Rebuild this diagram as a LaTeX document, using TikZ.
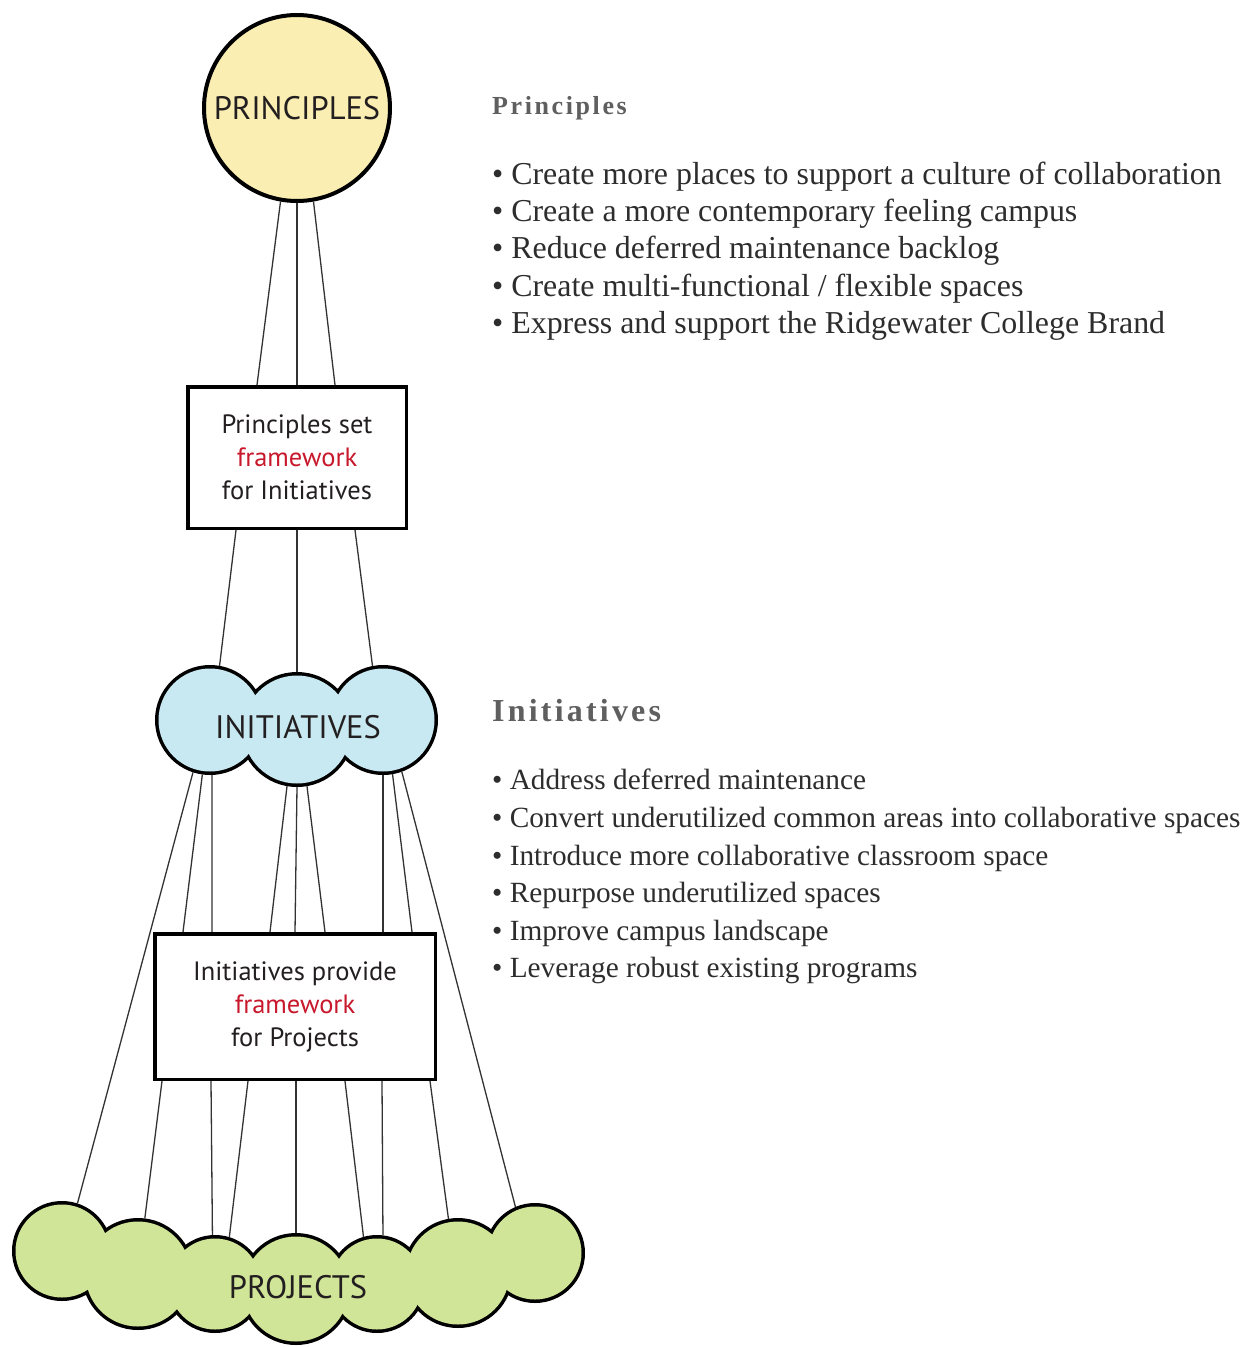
\documentclass[tikz,border=0pt]{standalone}
\usepackage{fontspec}
\setmainfont{Liberation Serif}
\newfontfamily\labelfont{PT Sans}
\newfontfamily\headfont[LetterSpace=10]{Liberation Serif}
\usetikzlibrary{calc}

\definecolor{sunfill}{RGB}{250,238,178}
\definecolor{skyfill}{RGB}{200,233,241}
\definecolor{leaffill}{RGB}{208,229,152}
\definecolor{frameworkred}{RGB}{200,24,44}
\definecolor{inkdark}{RGB}{35,31,32}
\definecolor{headgrey}{RGB}{95,95,95}
\definecolor{listgrey}{RGB}{45,45,45}

\begin{document}
\begin{tikzpicture}[x=1pt,y=-1pt,
  link/.style={draw=black!80, line width=1.3pt},
  frame/.style={rectangle, draw=black, line width=3.5pt, fill=white,
    font=\labelfont\fontsize{26.5}{33}\selectfont, text=inkdark,
    align=center, inner sep=0pt},
  lobe/.style={circle, draw=black, line width=7pt, inner sep=0pt},
  title/.style={font=\labelfont\fontsize{32.5}{32.5}\selectfont, text=inkdark},
  heading/.style={anchor=base west, inner sep=0pt, text=headgrey},
  item/.style={anchor=base west, inner sep=0pt, text=listgrey},
]
\useasboundingbox[fill=white] (0,0) rectangle (1249,1347);

% ---- Principles ----
\node[circle, draw=black, line width=4pt, fill=sunfill, minimum size=186,
      inner sep=0pt, title] (P) at (297,108) {PRINCIPLES};

\node[frame, minimum width=218.5, minimum height=141.5] (B1) at (297,457.5)
  {Principles set\\\textcolor{frameworkred}{framework}\\for Initiatives};

% ---- Initiatives cloud: outlines first, then the fill hides the inner arcs ----
\foreach \n/\x/\y/\r in {i1/210/720/51.5, i2/297/729.5/54, i3/383/720/51.5}
  \node[lobe, minimum size=2*\r] (\n) at (\x,\y) {};
\foreach \x/\y/\r in {210/720/51.5, 297/729.5/54, 383/720/51.5}
  \fill[skyfill] (\x,\y) circle[radius=\r];
\node[title] (I) at (298,727) {INITIATIVES};

\node[frame, minimum width=280.5, minimum height=145.5] (B2) at (295,1006.5)
  {Initiatives provide\\\textcolor{frameworkred}{framework}\\for Projects};

% ---- Projects cloud ----
\foreach \n/\x/\y/\r in {j1/62/1251/46.5, j2/138/1274/52.5, j3/215/1284/45.5,
    j4/296/1289/52.5, j5/377/1284/45.5, j6/458/1273/51.5, j7/535/1253/46.5}
  \node[lobe, minimum size=2*\r] (\n) at (\x,\y) {};
\foreach \x/\y/\r in {62/1251/46.5, 138/1274/52.5, 215/1284/45.5,
    296/1289/52.5, 377/1284/45.5, 458/1273/51.5, 535/1253/46.5}
  \fill[leaffill] (\x,\y) circle[radius=\r];
\node[title] (J) at (298,1287) {PROJECTS};

% ---- connectors ----
\draw[link] (P.-100) -- ([xshift=-40pt]B1.north);
\draw[link] (P.south) -- (B1.north);
\draw[link] (P.-80) -- ([xshift=38pt]B1.north);

\draw[link] ([xshift=-61pt]B1.south) -- (i1.80);
\draw[link] (B1.south) -- (i2.north);
\draw[link] ([xshift=58pt]B1.south) -- (i3.101);

\draw[link] (i1.-98) -- ([xshift=-112pt]B2.north);
\draw[link] (i1.-88) -- ([xshift=-83pt]B2.north);
\draw[link] (i2.-100) -- ([xshift=-25pt]B2.north);
\draw[link] (i2.south) -- (B2.north);
\draw[link] (i2.-80) -- ([xshift=30pt]B2.north);
\draw[link] (i3.-90) -- ([xshift=88pt]B2.north);
\draw[link] (i3.-80) -- ([xshift=117pt]B2.north);
\draw[link] (i1.-108) -- (j1.72);
\draw[link] (i3.-70) -- (j7.113);

\draw[link] ([xshift=-133pt]B2.south) -- (j2.83);
\draw[link] ([xshift=-84pt]B2.south) -- (j3.93);
\draw[link] ([xshift=-47pt]B2.south) -- (j3.73);
\draw[link] ([xshift=1pt]B2.south) -- (j4.north);
\draw[link] ([xshift=50pt]B2.south) -- (j5.106);
\draw[link] ([xshift=87pt]B2.south) -- (j5.83);
\draw[link] ([xshift=135pt]B2.south) -- (j6.100);

% ---- lists ----
\node[heading, font=\headfont\bfseries\fontsize{26}{26}\selectfont] (hp) at (492,114) {Principles};
\begin{scope}[every node/.append style={item, font=\fontsize{31.9}{31.9}\selectfont}]
  \node (p1) at (492,184) {• Create more places to support a culture of collaboration};
  \node (p2) at (492,221) {• Create a more contemporary feeling campus};
  \node (p3) at (492,258) {• Reduce deferred maintenance backlog};
  \node (p4) at (492,296) {• Create multi-functional / flexible spaces};
  \node (p5) at (492,333) {• Express and support the Ridgewater College Brand};
\end{scope}

\node[heading, font=\headfont\bfseries\fontsize{32}{32}\selectfont] (hi) at (492,721) {Initiatives};
\begin{scope}[every node/.append style={item, font=\fontsize{29.3}{29.3}\selectfont}]
  \node (n1) at (492,789) {• Address deferred maintenance};
  \node (n2) at (492,827) {• Convert underutilized common areas into collaborative spaces};
  \node (n3) at (492,865) {• Introduce more collaborative classroom space};
  \node (n4) at (492,902) {• Repurpose underutilized spaces};
  \node (n5) at (492,940) {• Improve campus landscape};
  \node (n6) at (492,977) {• Leverage robust existing programs};
\end{scope}
\end{tikzpicture}
\end{document}
